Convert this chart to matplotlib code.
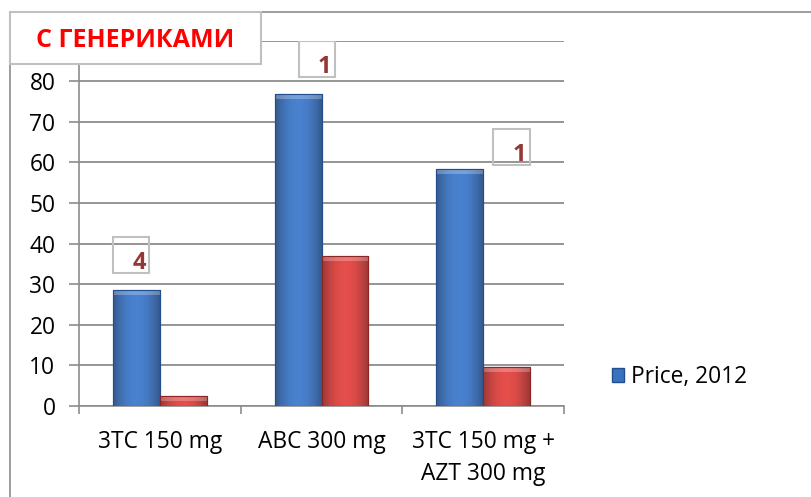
"""
Price comparison bars with generic counts, recreated from a reference image.
"""
import matplotlib

matplotlib.use("Agg")
import matplotlib.pyplot as plt  # noqa: E402
import numpy as np  # noqa: E402
from matplotlib.lines import Line2D  # noqa: E402
from matplotlib.patches import Rectangle  # noqa: E402

plt.rcParams["font.family"] = ["Open Sans", "DejaVu Sans"]

categories = ["3TC 150 mg", "ABC 300 mg", "3TC 150 mg +\nAZT 300 mg"]
price_2012 = [28.6, 76.8, 58.4]
price_generic = [2.5, 37.0, 9.6]
generic_counts = ["4", "1", "1"]
# box position of each count label: (left offset in category units, bottom, top)
count_boxes = [(-0.29, 32.8, 41.6), (-0.142, 81.0, 90.0), (0.062, 59.4, 68.2)]
y_ticks = [0, 10, 20, 30, 40, 50, 60, 70, 80]
title_text = "С ГЕНЕРИКАМИ"
legend_label = "Price, 2012"

BLUE = "#3a72c0"
BLUE_EDGE = "#214f8e"
RED = "#d53f3c"
RED_EDGE = "#8c2624"
GRID = "#8c8c8c"
FS = 16.4


def shaded_bar(ax, x, w, h, color, edge):
    bar = ax.bar(x, h, w, align="edge", color=color, edgecolor=edge,
                 linewidth=0.8, zorder=3)[0]
    # soft horizontal gradient, lighter in the middle
    g = np.linspace(-1, 1, 64)
    shade = 1 - 0.35 * g ** 2
    rgb = np.array(matplotlib.colors.to_rgb(color))
    img = np.clip(rgb[None, None, :] * shade[None, :, None] + 0.06, 0, 1)
    im = ax.imshow(img, extent=(x, x + w, 0, h), aspect="auto", zorder=3.5,
                   interpolation="bilinear")
    im.set_clip_path(bar)
    # lighter bevel on the top edge
    ax.add_patch(Rectangle((x, h - 1.2), w, 1.2, color="white", alpha=0.25,
                           lw=0, zorder=4))
    ax.add_patch(Rectangle((x, 0), w, h, fill=False, edgecolor=edge, lw=0.8,
                           zorder=4.5))
    return bar


fig = plt.figure(figsize=(8.12, 4.97), dpi=100)
ax = fig.add_axes([0.0973, 0.1831, 0.5973, 0.7352])

bw = 0.29
x = np.arange(len(categories))
for i in x:
    shaded_bar(ax, i - bw, bw, price_2012[i], BLUE, BLUE_EDGE)
    shaded_bar(ax, i, bw, price_generic[i], RED, RED_EDGE)

for i, (dx, y0, y1) in enumerate(count_boxes):
    bw_box = 0.225
    ax.add_patch(Rectangle((i + dx, y0), bw_box, y1 - y0, fill=False,
                           edgecolor="#c0c0c0", lw=1.5, zorder=5))
    ax.text(i + dx + bw_box * 0.72, y0 + 2.4, generic_counts[i], color="#953735",
            fontsize=17, fontweight="bold", ha="center", va="center", zorder=6)

ax.set_xlim(-0.5, 2.5)
ax.set_ylim(0, 90)
ax.set_yticks(y_ticks + [90])
ax.set_yticklabels([str(v) for v in y_ticks] + [""])
ax.yaxis.grid(True, color=GRID, lw=1.3)
ax.set_axisbelow(True)
ax.set_xticks([-0.5, 0.5, 1.5, 2.5])
ax.set_xticklabels([])
ax.set_xticks(x, minor=True)
ax.set_xticklabels(categories, minor=True, fontsize=FS, linespacing=1.45,
                   va="top")
ax.tick_params(axis="x", which="minor", length=0, pad=17)
ax.tick_params(axis="x", which="major", length=6, color=GRID, width=1.2)
ax.tick_params(axis="y", length=7, color=GRID, width=1.2, labelsize=FS,
               pad=10)
for side in ("top", "right"):
    ax.spines[side].set_visible(False)
for side in ("left", "bottom"):
    ax.spines[side].set_color(GRID)
    ax.spines[side].set_linewidth(1.2)

# legend shows only the 2012 series
handle = Rectangle((0, 0), 1, 1, facecolor=BLUE, edgecolor=BLUE_EDGE)
fig.legend([handle], [legend_label], loc="center left",
           bbox_to_anchor=(0.728, 0.2415), frameon=False, fontsize=FS,
           handlelength=0.55, handleheight=0.55, handletextpad=0.3)

# chart frame and title box
fig.add_artist(Line2D([0.0123, 0.0123], [0, 0.976], color="#8c8c8c", lw=1.2))
fig.add_artist(Line2D([0.0123, 1], [0.976, 0.976], color="#8c8c8c", lw=1.2))
fig.add_artist(Rectangle((0.0123, 0.871), 0.309, 0.1046, facecolor="white",
                         edgecolor="#c0c0c0", lw=1.5, zorder=10,
                         transform=fig.transFigure))
fig.text(0.1665, 0.918, title_text, color="#ff0000", fontsize=18,
         fontweight="bold", ha="center", va="center", zorder=11)

fig.savefig("out.png", dpi=100)
